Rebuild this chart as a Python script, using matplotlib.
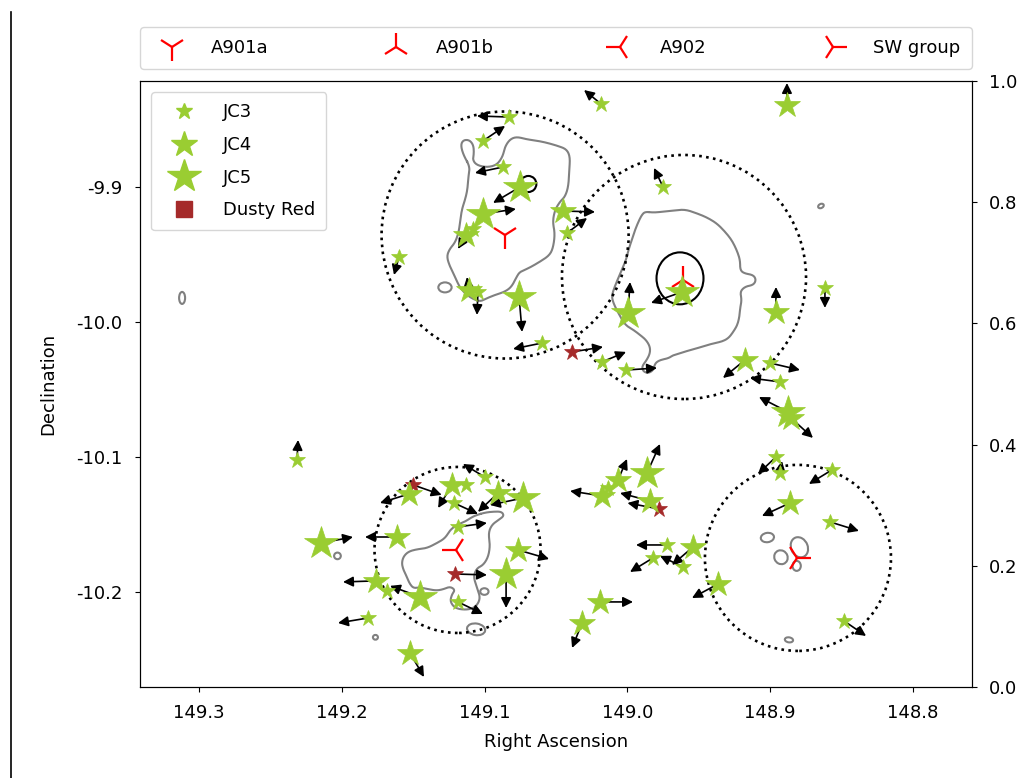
import matplotlib.pyplot as plt
import numpy as np
from matplotlib.patches import Ellipse
from matplotlib.lines import Line2D
from matplotlib.ticker import FormatStrFormatter

plt.rcParams['font.family'] = ['DejaVu Sans']

# cluster centres
cl_names = ['A901a', 'A901b', 'A902', 'SW group']
cl_ra = [149.0857, 148.9611, 149.1201, 148.8813]
cl_dec = [-9.9356, -9.9689, -10.1693, -10.1748]
cl_mark = ['1', '2', '3', '4']

# apertures round each cluster (radius in deg of Dec)
ap_ra = [149.0857, 148.9604, 149.1190, 148.8806]
ap_dec = [-9.9356, -9.9667, -10.1689, -10.1748]
ap_r = [0.0915, 0.0904, 0.0615, 0.0689]

# galaxies: position and the tip of the offset arrow (nan = no arrow)
jc3_ra = [149.0185, 149.0829, 149.1012, 149.0871, 149.1082, 149.1600, 149.1047, 149.0598,
          149.0423, 149.0178, 149.0010, 148.9751, 148.8617, 148.9002, 148.8932, 148.8960,
          148.8932, 148.8568, 148.8582, 148.8483, 148.9723, 148.9821, 148.9611, 149.0136,
          149.2314, 149.1131, 149.1215, 149.1000, 149.1187, 149.1684, 149.1187, 149.1817]
jc3_dec = [-9.8385, -9.8482, -9.8659, -9.8852, -9.9311, -9.9519, -9.9778, -10.0156,
           -9.9341, -10.0296, -10.0356, -9.9000, -9.9748, -10.0304, -10.0444, -10.1000,
           -10.1119, -10.1096, -10.1481, -10.2215, -10.1652, -10.1748, -10.1815, -10.1230,
           -10.1022, -10.1207, -10.1341, -10.1148, -10.1518, -10.1993, -10.2074, -10.2193]
jc3_ra2 = [149.0304, 149.1054, 149.0857, 149.1068, np.nan, 149.1635, 149.1054, 149.0801,
           149.0283, 149.0010, 148.9793, 148.9814, 148.8617, 148.8792, 148.9142, 148.9086,
           148.8918, 148.8729, 148.8379, 148.8329, 148.9940, 148.9982, 148.9772, np.nan,
           149.2307, np.nan, 149.1047, 149.1152, 149.0984, np.nan, 149.1012, 149.2027]
jc3_dec2 = [-9.8282, -9.8474, -9.8548, -9.8896, np.nan, -9.9652, -9.9948, -10.0200,
            -9.9230, -10.0222, -10.0341, -9.8859, -9.9896, -10.0356, -10.0415, -10.1126,
            -10.1030, -10.1200, -10.1548, -10.2326, -10.1652, -10.1852, -10.1733, np.nan,
            -10.0874, np.nan, -10.1422, -10.1052, -10.1489, np.nan, -10.2163, -10.2230]

jc4_ra = [149.1131, 149.1110, 149.0451, 148.8960, 148.9177, 148.8855, 148.8883, 148.8862,
          148.9366, 149.0178, 149.0066, 148.9842, 148.9541, 149.0192, 149.0318, 149.1530,
          149.1229, 149.0906, 149.1614, 149.0766, 149.1761, 149.1523]
jc4_dec = [-9.9356, -9.9763, -9.9178, -9.9926, -10.0282, -10.0711, -9.8393, -10.1341,
           -10.1941, -10.1289, -10.1170, -10.1326, -10.1667, -10.2074, -10.2230, -10.1274,
           -10.1207, -10.1267, -10.1593, -10.1689, -10.1918, -10.2452]
jc4_ra2 = [149.1187, 149.1124, 149.0227, 148.8960, 148.9331, 148.8701, 148.8883, 148.9058,
           148.9548, 149.0402, 149.0003, 149.0052, 148.9688, 148.9961, 149.0388, 149.1733,
           149.1326, 149.1047, 149.1838, 149.0549, 149.1992, 149.1425]
jc4_dec2 = [-9.9459, -9.9667, -9.9185, -9.9741, -10.0415, -10.0859, -9.8230, -10.1437,
            -10.2045, -10.1252, -10.1015, -10.1267, -10.1800, -10.2074, -10.2415, -10.1341,
            -10.1378, -10.1407, -10.1593, -10.1756, -10.1926, -10.2630]

jc5_ra = [149.0752, 149.1012, 149.0759, 148.9618, 148.9996, 148.8876, 148.9863, 149.0731,
          149.2146, 149.0850, 149.1453]
jc5_dec = [-9.9000, -9.9200, -9.9815, -9.9778, -9.9933, -10.0667, -10.1119, -10.1304,
           -10.1637, -10.1867, -10.2037]
jc5_ra2 = [149.0941, 149.0781, 149.0738, 148.9835, 148.9982, 148.9079, 148.9772, 149.0963,
           149.1922, 149.0850, 149.1663]
jc5_dec2 = [-9.9118, -9.9163, -10.0074, -9.9859, -9.9704, -10.0556, -10.0904, -10.1356,
            -10.1593, -10.2119, -10.1955]

red_ra = [149.0388, 148.9779, 149.1502, 149.1208]
red_dec = [-10.0222, -10.1385, -10.1207, -10.1867]
red_ra2 = [149.0171, 149.0000, 149.1301, 149.0984]
red_dec2 = [-10.0185, -10.1341, -10.1281, -10.1874]

# mass contours (RA, Dec)
cont_a901a = [(149.1103, -9.8850), (149.1149, -9.8763), (149.1168, -9.8689), (149.1149, -9.8652),
              (149.1107, -9.8652), (149.1079, -9.8689), (149.1075, -9.8751), (149.1084, -9.8800),
              (149.1056, -9.8838), (149.0986, -9.8855), (149.0916, -9.8838), (149.0874, -9.8776),
              (149.0858, -9.8702), (149.0823, -9.8647), (149.0776, -9.8628), (149.0706, -9.8647),
              (149.0636, -9.8657), (149.0566, -9.8672), (149.0484, -9.8697), (149.0426, -9.8721),
              (149.0402, -9.8776), (149.0407, -9.8875), (149.0414, -9.8998), (149.0437, -9.9072),
              (149.0473, -9.9109), (149.0508, -9.9171), (149.0524, -9.9257), (149.0508, -9.9344),
              (149.0519, -9.9442), (149.0543, -9.9504), (149.0613, -9.9554), (149.0694, -9.9603),
              (149.0753, -9.9628), (149.0776, -9.9665), (149.0811, -9.9739), (149.0858, -9.9776),
              (149.0928, -9.9800), (149.0986, -9.9825), (149.1033, -9.9850), (149.1091, -9.9825),
              (149.1138, -9.9788), (149.1177, -9.9739), (149.1208, -9.9665), (149.1243, -9.9591),
              (149.1266, -9.9517), (149.1247, -9.9462), (149.1208, -9.9413), (149.1184, -9.9344),
              (149.1173, -9.9270), (149.1161, -9.9171), (149.1138, -9.9097), (149.1121, -9.9023),
              (149.1114, -9.8924)]
cont_a901b = [(148.9877, -9.9183), (148.9818, -9.9190), (148.9748, -9.9183), (148.9678, -9.9175),
              (148.9597, -9.9166), (148.9515, -9.9195), (148.9445, -9.9225), (148.9375, -9.9269),
              (148.9317, -9.9331), (148.9270, -9.9393), (148.9235, -9.9467), (148.9211, -9.9541),
              (148.9211, -9.9615), (148.9183, -9.9640), (148.9118, -9.9652), (148.9099, -9.9689),
              (148.9118, -9.9726), (148.9176, -9.9738), (148.9211, -9.9775), (148.9200, -9.9837),
              (148.9211, -9.9899), (148.9216, -9.9961), (148.9230, -10.0022), (148.9258, -10.0072),
              (148.9293, -10.0121), (148.9340, -10.0146), (148.9398, -10.0158), (148.9457, -10.0178),
              (148.9515, -10.0195), (148.9573, -10.0212), (148.9632, -10.0232), (148.9678, -10.0245),
              (148.9713, -10.0269), (148.9772, -10.0282), (148.9807, -10.0306), (148.9818, -10.0356),
              (148.9853, -10.0380), (148.9888, -10.0368), (148.9900, -10.0331), (148.9865, -10.0282),
              (148.9842, -10.0232), (148.9842, -10.0183), (148.9870, -10.0133), (148.9912, -10.0096),
              (148.9958, -10.0059), (149.0017, -10.0022), (149.0063, -9.9936), (149.0098, -9.9862),
              (149.0110, -9.9812), (149.0098, -9.9763), (149.0070, -9.9689), (149.0040, -9.9615),
              (149.0010, -9.9541), (148.9993, -9.9467), (148.9970, -9.9393), (148.9947, -9.9319),
              (148.9923, -9.9257), (148.9900, -9.9208)]
cont_a902 = [(149.1056, -10.1430), (149.0997, -10.1412), (149.0939, -10.1405), (149.0881, -10.1405),
             (149.0864, -10.1437), (149.0904, -10.1467), (149.0951, -10.1504), (149.0974, -10.1565),
             (149.0962, -10.1652), (149.0974, -10.1738), (149.1009, -10.1800), (149.1056, -10.1825),
             (149.1079, -10.1886), (149.1056, -10.1960), (149.1032, -10.2035), (149.1044, -10.2084),
             (149.1079, -10.2121), (149.1137, -10.2133), (149.1207, -10.2121), (149.1242, -10.2072),
             (149.1231, -10.2022), (149.1207, -10.1985), (149.1242, -10.1960), (149.1289, -10.1980),
             (149.1336, -10.1990), (149.1394, -10.1980), (149.1453, -10.1965), (149.1499, -10.1973),
             (149.1527, -10.1936), (149.1546, -10.1886), (149.1569, -10.1837), (149.1581, -10.1788),
             (149.1569, -10.1738), (149.1534, -10.1701), (149.1476, -10.1684), (149.1406, -10.1676),
             (149.1336, -10.1639), (149.1277, -10.1602), (149.1242, -10.1541), (149.1196, -10.1504),
             (149.1137, -10.1479), (149.1091, -10.1447)]

# small closed contours: centre, width (RA), height (Dec), tilt, colour
blob_ra = [149.3119, 148.8645, 149.1278, 149.2031, 149.1765, 149.1002, 149.1060,
           148.9020, 148.8925, 148.8796, 148.8815, 148.8869, 148.9632, 149.0694]
blob_dec = [-9.9822, -9.9141, -9.9744, -10.1733, -10.2336, -10.1997, -10.2277,
            -10.1597, -10.1743, -10.1669, -10.1807, -10.2355, -9.9677, -9.8978]
blob_w = [0.0042, 0.0042, 0.0093, 0.0047, 0.0035, 0.0058, 0.0128,
          0.0093, 0.0093, 0.0117, 0.0058, 0.0058, 0.0329, 0.0112]
blob_h = [0.0089, 0.0030, 0.0074, 0.0049, 0.0035, 0.0049, 0.0086,
          0.0069, 0.0104, 0.0153, 0.0074, 0.0037, 0.0385, 0.0119]
blob_ang = [0, -30, 0, 0, 0, 0, 10, -10, -20, -20, 0, 10, 0, 0]
blob_col = ['gray'] * 12 + ['black', 'black']


def chaikin(pts, n=3):
    # corner cutting to smooth a closed outline
    for _ in range(n):
        p = np.vstack([pts, pts[:1]])
        q = 0.75 * p[:-1] + 0.25 * p[1:]
        r = 0.25 * p[:-1] + 0.75 * p[1:]
        pts = np.empty((2 * len(q), 2))
        pts[0::2] = q
        pts[1::2] = r
    return pts


fig = plt.figure(figsize=(10.3, 7.78), dpi=100)
ax = fig.add_axes([0.1359, 0.1170, 0.8078, 0.7789])
ax.set_xlim(149.3414, 148.7587)
ax.set_ylim(-10.2704, -9.8215)

# keep the apertures round on screen
pp = ax.transData.transform([[149.0, -10.0], [148.9, -9.9]])
k = abs(pp[1, 1] - pp[0, 1]) / abs(pp[1, 0] - pp[0, 0])

for ra, dec, r in zip(ap_ra, ap_dec, ap_r):
    ax.add_patch(Ellipse((ra, dec), 2 * r * k, 2 * r, fill=False, ls=':', lw=1.9,
                         color='k', zorder=2))

for cont in [cont_a901a, cont_a901b, cont_a902]:
    s = chaikin(np.array(cont))
    s = np.vstack([s, s[:1]])
    ax.plot(s[:, 0], s[:, 1], color='gray', lw=1.5, zorder=1)

for x, y, w, h, a, c in zip(blob_ra, blob_dec, blob_w, blob_h, blob_ang, blob_col):
    ax.add_patch(Ellipse((x, y), w, h, angle=a, fill=False, ec=c, lw=1.5, zorder=1))

for ra, dec, m in zip(cl_ra, cl_dec, cl_mark):
    ax.plot(ra, dec, marker=m, color='red', ms=20, mew=1.6, ls='none', zorder=3)


def draw_arrows(ra, dec, ra2, dec2):
    for x0, y0, x1, y1 in zip(ra, dec, ra2, dec2):
        if np.isnan(x1):
            continue
        ax.annotate('', xy=(x1, y1), xytext=(x0, y0), zorder=4,
                    arrowprops=dict(arrowstyle='-|>', color='k', lw=1.2,
                                    mutation_scale=15, shrinkA=0, shrinkB=0))


draw_arrows(jc3_ra, jc3_dec, jc3_ra2, jc3_dec2)
draw_arrows(jc4_ra, jc4_dec, jc4_ra2, jc4_dec2)
draw_arrows(jc5_ra, jc5_dec, jc5_ra2, jc5_dec2)
draw_arrows(red_ra, red_dec, red_ra2, red_dec2)

green = 'yellowgreen'
ax.plot(red_ra, red_dec, '*', color='brown', ms=12, mew=0.5, ls='none', zorder=5)
ax.plot(jc5_ra, jc5_dec, '*', color=green, ms=25, mew=0.5, ls='none', zorder=5)
ax.plot(jc4_ra, jc4_dec, '*', color=green, ms=19, mew=0.5, ls='none', zorder=5)
ax.plot(jc3_ra, jc3_dec, '*', color=green, ms=12, mew=0.5, ls='none', zorder=5)

ax.set_xticks([149.3, 149.2, 149.1, 149.0, 148.9, 148.8])
ax.set_yticks([-9.9, -10.0, -10.1, -10.2])
ax.xaxis.set_major_formatter(FormatStrFormatter('%.1f'))
ax.yaxis.set_major_formatter(FormatStrFormatter('%.1f'))
ax.tick_params(labelsize=13, pad=9)
ax.set_xlabel('Right Ascension', fontsize=13, labelpad=8)
ax.set_ylabel('Declination', fontsize=13, labelpad=14)

h2 = [Line2D([], [], ls='none', marker='*', color=green, ms=12),
      Line2D([], [], ls='none', marker='*', color=green, ms=19),
      Line2D([], [], ls='none', marker='*', color=green, ms=25),
      Line2D([], [], ls='none', marker='s', color='brown', ms=11)]
leg2 = ax.legend(h2, ['JC3', 'JC4', 'JC5', 'Dusty Red'], loc='upper left', fontsize=13,
                 handlelength=2.4, handletextpad=1.0, borderpad=0.6, labelspacing=0.82,
                 borderaxespad=0.62)
ax.add_artist(leg2)

h1 = [Line2D([], [], ls='none', marker=m, color='red', ms=20, mew=1.6) for m in cl_mark]
ax.legend(h1, cl_names, bbox_to_anchor=(0, 1.02, 1, 0.102), loc='lower left', ncol=4,
          mode='expand', borderaxespad=0, fontsize=13, handlelength=2.2,
          handletextpad=1.1, borderpad=0.65)

ax2 = ax.twinx()
ax2.set_ylim(0, 1)
ax2.tick_params(labelsize=13, pad=9)

fig.add_artist(Line2D([0.0107, 0.0107], [0, 0.984], color='k', lw=1.2))

plt.savefig('out.png')
